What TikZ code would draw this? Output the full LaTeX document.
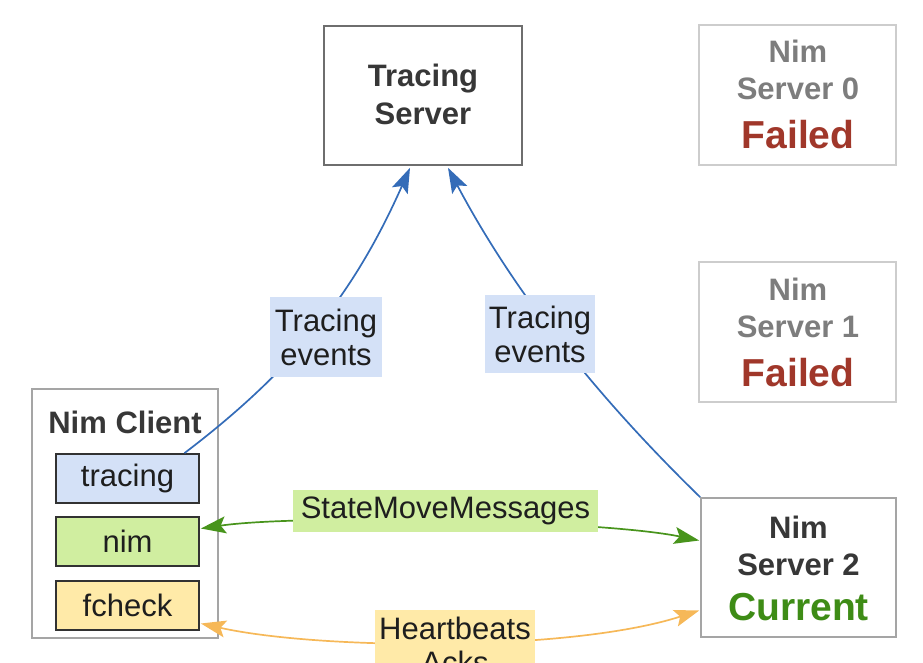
\documentclass[tikz,border=0pt]{standalone}
\usepackage{fontspec}
\setmainfont{Liberation Sans}
\usetikzlibrary{arrows.meta,calc}

\definecolor{ink}{RGB}{30,30,30}
\definecolor{darktitle}{RGB}{55,55,55}
\definecolor{greytitle}{RGB}{125,125,125}
\definecolor{failred}{RGB}{160,55,42}
\definecolor{okgreen}{RGB}{62,140,22}
\definecolor{edgedark}{RGB}{110,110,110}
\definecolor{edgelight}{RGB}{205,205,205}
\definecolor{edgemid}{RGB}{165,165,165}
\definecolor{partedge}{RGB}{50,50,50}
\definecolor{bluefill}{RGB}{212,225,247}
\definecolor{greenfill}{RGB}{208,238,160}
\definecolor{yellowfill}{RGB}{255,234,168}
\definecolor{blueline}{RGB}{52,108,184}
\definecolor{greenline}{RGB}{72,148,28}
\definecolor{orangeline}{RGB}{246,184,88}

\newcommand\regfont{\fontsize{31}{34}\selectfont}
\newcommand\boldfont{\fontsize{31}{36}\selectfont\bfseries}
\newcommand\statfont{\fontsize{39}{44}\selectfont\bfseries}

\tikzset{
  frame/.style={draw=#1, line width=1.6pt, fill=white, inner sep=0pt},
  part/.style={draw=partedge, line width=1.8pt, fill=#1, minimum width=143pt,
    minimum height=49pt, inner sep=0pt, font=\regfont, text=ink},
  title/.style={anchor=base, inner sep=0pt, font=\boldfont, text=#1},
  status/.style={anchor=base, inner sep=0pt, font=\statfont, text=#1},
  tag/.style={fill=#1, inner sep=0pt, font=\regfont, align=center, text=ink},
  flow/.style={draw=#1, line width=1.7pt},
  head/.style={-{Stealth[length=25pt,width=17pt,inset=5pt]}},
  heads/.style={{Stealth[length=25pt,width=17pt,inset=5pt]}-{Stealth[length=25pt,width=17pt,inset=5pt]}},
}

\begin{document}
\begin{tikzpicture}[x=1pt,y=-1pt]
\useasboundingbox (0,0) rectangle (923,663);
\clip (0,0) rectangle (923,663);

% tracing server
\node[frame=edgedark, minimum width=198pt, minimum height=139pt] (ts) at (423,95.5) {};
\node[title=darktitle] (tsA) at (423,87) {Tracing};
\node[title=darktitle] (tsB) at (423,125) {Server};

% nim servers
\node[frame=edgelight, minimum width=197pt, minimum height=140pt] (ns0) at (797.5,95) {};
\node[title=greytitle] (ns0A) at (798,63) {Nim};
\node[title=greytitle] (ns0B) at (798,100) {Server 0};
\node[status=failred] (ns0C) at (798,149) {Failed};

\node[frame=edgelight, minimum width=197pt, minimum height=140pt] (ns1) at (797.5,332) {};
\node[title=greytitle] (ns1A) at (798,300) {Nim};
\node[title=greytitle] (ns1B) at (798,337) {Server 1};
\node[status=failred] (ns1C) at (798,386) {Failed};

\node[frame=edgemid, minimum width=195pt, minimum height=139pt] (ns2) at (798.5,567.5) {};
\node[title=darktitle] (ns2A) at (798.5,538) {Nim};
\node[title=darktitle] (ns2B) at (798.5,575) {Server 2};
\node[status=okgreen] (ns2C) at (798.5,620) {Current};

% nim client with its three parts
\node[frame=edgemid, minimum width=186pt, minimum height=249pt] (cl) at (125,513.5) {};
\node[title=darktitle] (clA) at (125,433) {Nim Client};
\node[part=bluefill] (tr) at (127.5,478.5) {tracing};
\node[part=greenfill] (nim) at (127.5,541.5) {nim};
\node[part=yellowfill] (fc) at (127.5,605.5) {fcheck};

% connectors
\draw[flow=blueline, head] ($(tr.north)+(57,0)$)
  .. controls (295,369) and (355,292) .. ($(ts.south)+(-13,2)$);
\draw[flow=blueline, head] (ns2.north west)
  .. controls (585,385) and (508,281) .. ($(ts.south)+(25,2)$);
\draw[flow=greenline, heads] ($(nim.east)+(1,-13)$)
  .. controls (300,514) and (600,520) .. ($(ns2.west)+(-1,-27)$);
\draw[flow=orangeline, heads] ($(fc.east)+(1,18)$)
  .. controls (320,650) and (570,652) .. ($(ns2.west)+(-1,43)$);

% connector labels
\node[tag=bluefill, minimum width=112pt, minimum height=80pt] (te1) at (326,337) {Tracing\\events};
\node[tag=bluefill, minimum width=110pt, minimum height=78pt] (te2) at (540,334) {Tracing\\events};
\node[tag=greenfill, minimum width=305pt, minimum height=42pt] (smm) at (445.5,511) {StateMoveMessages};
\node[tag=yellowfill, minimum width=160pt, minimum height=70pt] (hb) at (455,645) {Heartbeats\\Acks};
\end{tikzpicture}
\end{document}
